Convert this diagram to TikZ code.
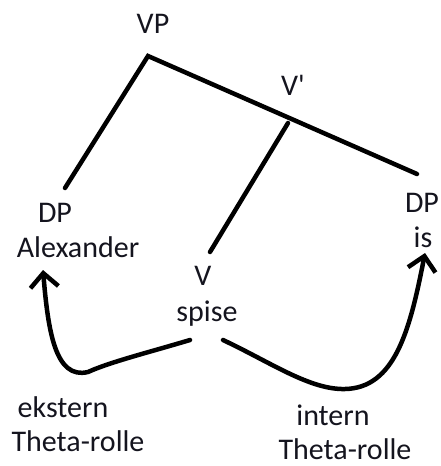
\documentclass[tikz,border=0pt]{standalone}
\usepackage{fontspec}
\setmainfont{Carlito}
\usetikzlibrary{arrows.meta}
\definecolor{ink}{RGB}{20,20,30}
\tikzset{
  lbl/.style={text=ink, inner sep=0pt, anchor=base, font=\fontsize{30}{34}\selectfont},
  branch/.style={line width=4.5pt, line cap=round, black},
  thetaarrow/.style={line width=4.5pt, line cap=round, line join=round, black,
    -{Straight Barb[length=14pt, width=28pt, line width=4.5pt]}}
}
\begin{document}
\begin{tikzpicture}[x=1pt, y=-1pt]
\useasboundingbox (0,0) rectangle (441,466);
% labels (placed by baseline)
\node[lbl] (vp) at (153,33) {VP};
\node[lbl] (vbar) at (293,95) {V\textquotesingle};
\node[lbl] (dpl) at (55,222) {DP};
\node[lbl] (alex) at (78,257) {Alexander};
\node[lbl] (dpr) at (422,212) {DP};
\node[lbl] (is) at (423,247) {is};
\node[lbl] (v) at (203,285) {V};
\node[lbl] (spise) at (207,321) {spise};
\node[lbl] (ek) at (63,417) {ekstern};
\node[lbl] (thl) at (78,451) {Theta-rolle};
\node[lbl] (in) at (333,425) {intern};
\node[lbl] (thr) at (345,459) {Theta-rolle};
% tree points
\coordinate (apex) at (148,56);
\coordinate (lend) at (65,188);
\coordinate (rend) at (417,174);
\coordinate (vbarpt) at (288,123);
\coordinate (vend) at (210,252);
\draw[branch] (lend) -- (apex) -- (rend);
\draw[branch] (vbarpt) -- (vend);
% arrows
\coordinate (ls) at (190,340);
\coordinate (lt) at (43,270);
\coordinate (rs) at (223,340);
\coordinate (rt) at (425,253);
\draw[thetaarrow] (ls) .. controls (150,352) and (110,362) .. (88,372)
  .. controls (55,380) and (48,330) .. (lt);
\draw[thetaarrow] (rs) .. controls (270,362) and (310,390) .. (345,389)
  .. controls (395,388) and (410,330) .. (rt);
\end{tikzpicture}
\end{document}
